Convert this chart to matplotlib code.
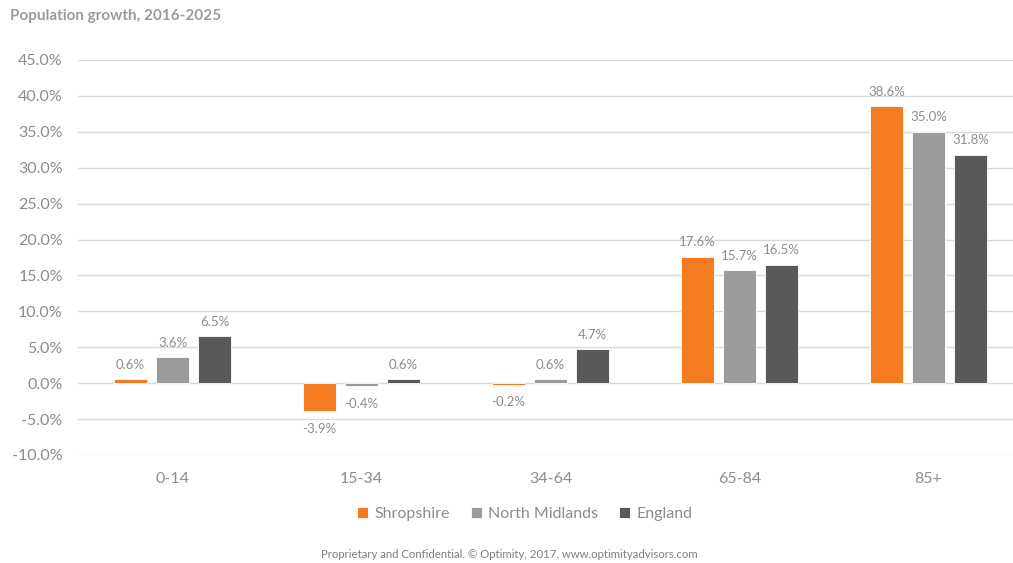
import matplotlib
matplotlib.use("Agg")
import matplotlib.pyplot as plt
import numpy as np

categories = ["0-14", "15-34", "34-64", "65-84", "85+"]
series_names = ["Shropshire", "North Midlands", "England"]
shropshire = [0.6, -3.9, -0.2, 17.6, 38.6]
north_midlands = [3.6, -0.4, 0.6, 15.7, 35.0]
england = [6.5, 0.6, 4.7, 16.5, 31.8]
yticks = [-10, -5, 0, 5, 10, 15, 20, 25, 30, 35, 40, 45]

colors = ["#F47B20", "#9A9B9C", "#58595B"]
text_color = "#8C8C8C"
font = ["Lato", "DejaVu Sans"]
plt.rcParams["font.family"] = font

fig = plt.figure(figsize=(10.13, 5.63), dpi=100)
ax = fig.add_axes([78/1013, 1-455/563, 945/1013, (455-60)/563])

x = np.arange(len(categories))
width = 0.175
step = 0.222
data = [shropshire, north_midlands, england]
for i, (vals, name, c) in enumerate(zip(data, series_names, colors)):
    pos = x + (i - 1) * step
    bars = ax.bar(pos, vals, width, color=c, label=name, edgecolor="white", linewidth=0.6, zorder=3)
    for b, v in zip(bars, vals):
        if v >= 0:
            ax.annotate(f"{v:.1f}%", (b.get_x() + b.get_width()/2, v), xytext=(0, 6),
                        textcoords="offset points", ha="center", va="bottom",
                        fontsize=9.5, color=text_color)
        else:
            ax.annotate(f"{v:.1f}%", (b.get_x() + b.get_width()/2, v), xytext=(0, -8.5),
                        textcoords="offset points", ha="center", va="top",
                        fontsize=9.5, color=text_color)

ax.set_xlim(-0.5, len(categories) - 0.5)
ax.set_ylim(-10, 45)
ax.set_yticks(yticks)
ax.set_yticklabels([f"{t:.1f}%" for t in yticks])
ax.set_xticks(x)
ax.set_xticklabels(categories)
ax.tick_params(axis="both", length=0, labelsize=11.5, labelcolor=text_color)
ax.tick_params(axis="x", pad=12)
ax.tick_params(axis="y", pad=11)
ax.grid(axis="y", color="#D9D9D9", linewidth=1, zorder=0)
for s in ax.spines.values():
    s.set_visible(False)

leg = ax.legend(loc="center", bbox_to_anchor=(525/1013, 1-514/563), bbox_transform=fig.transFigure,
                ncol=3, frameon=False, fontsize=11.5, handlelength=0.7, handleheight=0.7,
                handletextpad=0.4, columnspacing=1.3)
for t in leg.get_texts():
    t.set_color(text_color)

fig.text(10/1013, 1-16/563, "Population growth, 2016-2025", fontsize=11, fontweight="bold",
         color="#9A9A9A", ha="left", va="center")
fig.text(509/1013, 1-555/563, "Proprietary and Confidential. \u00a9 Optimity, 2017. www.optimityadvisors.com",
         fontsize=8.2, color="#7F7F7F", ha="center", va="center")

fig.savefig("out.png", dpi=100)
